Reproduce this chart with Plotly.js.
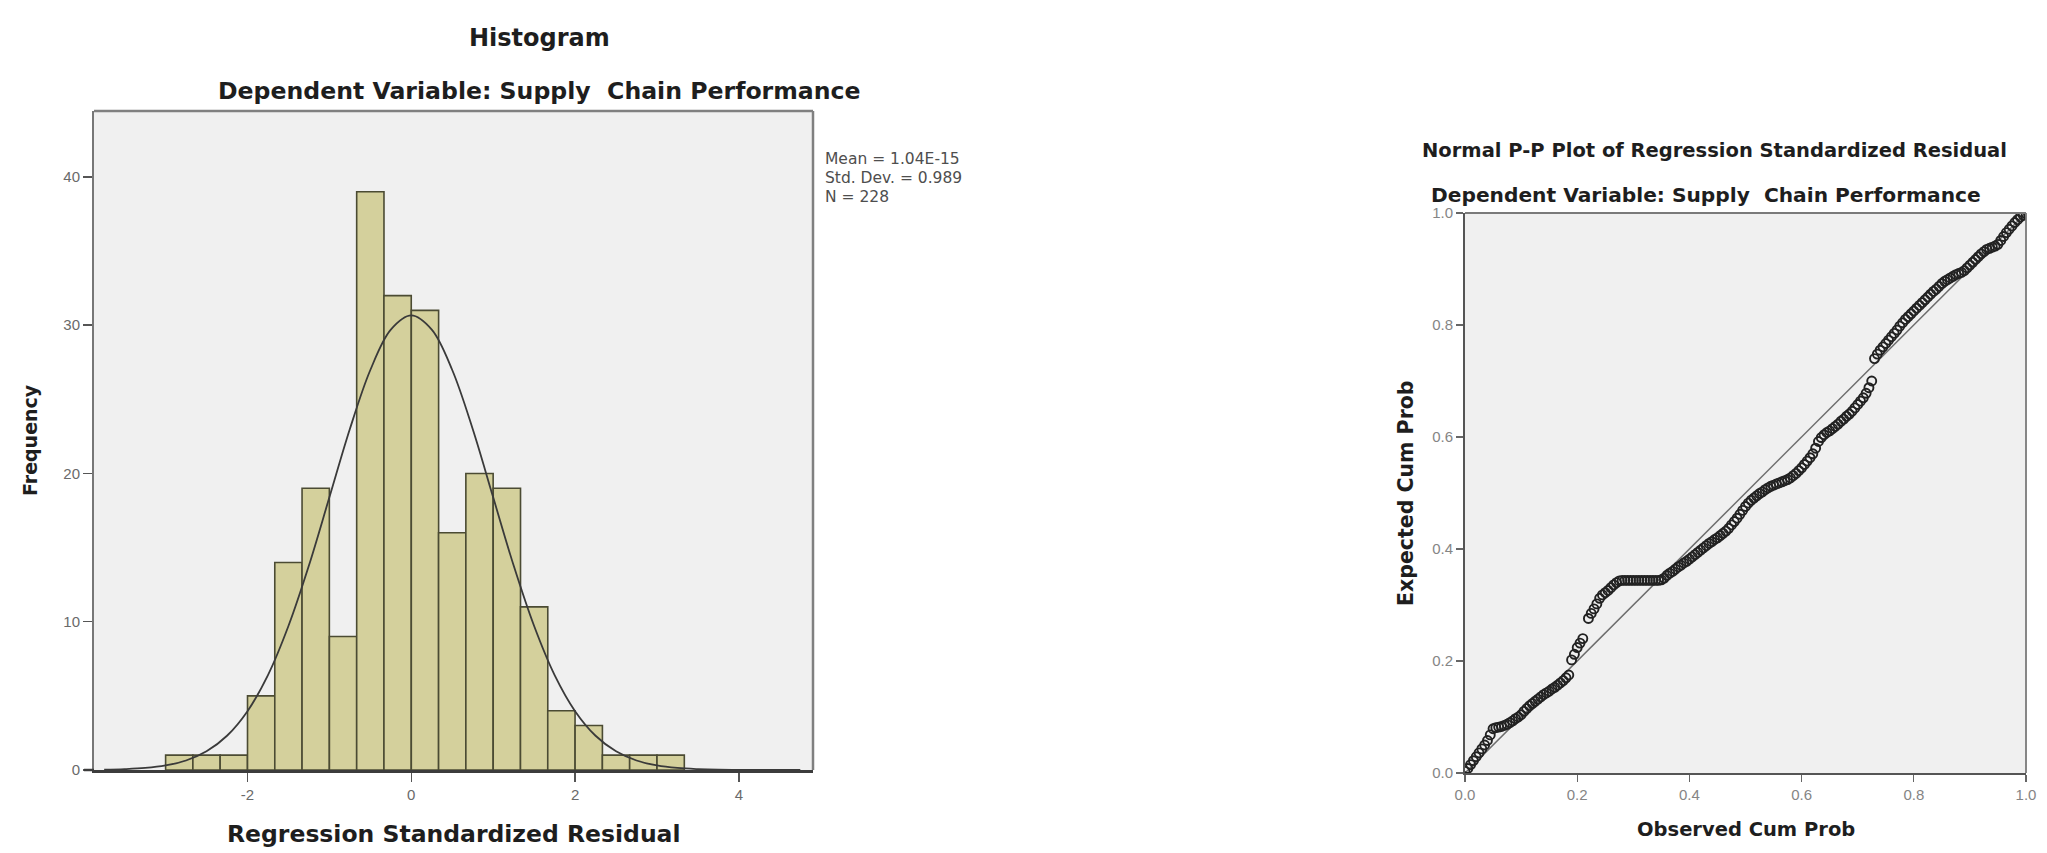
<!DOCTYPE html>
<html>
<head>
<meta charset="utf-8">
<script src="https://cdn.plot.ly/plotly-3.0.1.min.js"></script>
<style>
html,body{margin:0;padding:0;background:#fff;}
#chart{width:2047px;height:853px;}
</style>
</head>
<body>
<div id="chart"></div>
<script>
// ---------- Histogram data ----------
var binCenters = [-2.833,-2.5,-2.167,-1.833,-1.5,-1.167,-0.833,-0.5,-0.167,0.167,0.5,0.833,1.167,1.5,1.833,2.167,2.5,2.833,3.167];
var binWidth = 1/3;
var frequencies = [1,1,1,5,14,19,9,39,32,31,16,20,19,11,4,3,1,1,1];

// normal curve
var curveX = [-3.75,-3.5,-3.25,-3.0,-2.75,-2.5,-2.25,-2.0,-1.75,-1.5,-1.25,-1.0,-0.75,-0.5,-0.25,0,0.25,0.5,0.75,1.0,1.25,1.5,1.75,2.0,2.25,2.5,2.75,3.0,3.25,3.5,3.75,4.0,4.25,4.5,4.75];
var curveY = [0.02,0.06,0.14,0.31,0.64,1.26,2.31,3.97,6.40,9.71,13.79,18.39,23.00,26.98,29.70,30.66,29.70,26.98,23.00,18.39,13.79,9.71,6.40,3.97,2.31,1.26,0.64,0.31,0.14,0.06,0.02,0.01,0,0,0];

var histTicks = [-2,0,2,4];
var freqTicks = [0,10,20,30,40];
var statLines = ["Mean = 1.04E-15","Std. Dev. = 0.989","N = 228"];

// ---------- P-P plot data ----------
var observedCumProb = [
  0.000,0.005,0.010,0.015,0.020,0.025,0.030,0.035,0.040,0.045,
  0.050,0.055,0.060,0.065,0.070,0.075,0.080,0.085,0.090,0.095,
  0.100,0.105,0.110,0.115,0.120,0.125,0.130,0.135,0.140,0.145,
  0.150,0.155,0.160,0.165,0.170,0.175,0.180,0.185,0.190,0.195,
  0.200,0.205,0.210,0.220,0.225,0.230,0.235,0.240,0.245,
  0.250,0.255,0.260,0.265,0.270,0.275,0.280,0.285,0.290,0.295,
  0.300,0.305,0.310,0.315,0.320,0.325,0.330,0.335,0.340,0.345,
  0.350,0.355,0.360,0.365,0.370,0.375,0.380,0.385,0.390,0.395,
  0.400,0.405,0.410,0.415,0.420,0.425,0.430,0.435,0.440,0.445,
  0.450,0.455,0.460,0.465,0.470,0.475,0.480,0.485,0.490,0.495,
  0.500,0.505,0.510,0.515,0.520,0.525,0.530,0.535,0.540,0.545,
  0.550,0.555,0.560,0.565,0.570,0.575,0.580,0.585,0.590,0.595,
  0.600,0.605,0.610,0.615,0.620,0.625,0.630,0.635,0.640,0.645,
  0.650,0.655,0.660,0.665,0.670,0.675,0.680,0.685,0.690,0.695,
  0.700,0.705,0.710,0.715,0.720,0.725,0.730,0.735,0.740,0.745,
  0.750,0.755,0.760,0.765,0.770,0.775,0.780,0.785,0.790,0.795,
  0.800,0.805,0.810,0.815,0.820,0.825,0.830,0.835,0.840,0.845,
  0.850,0.855,0.860,0.865,0.870,0.875,0.880,0.885,0.890,0.895,
  0.900,0.905,0.910,0.915,0.920,0.925,0.930,0.935,0.940,0.945,
  0.950,0.955,0.960,0.965,0.970,0.975,0.980,0.985,0.990,0.995,1.000];
var expectedCumProb = [
  0.003,0.008,0.015,0.022,0.029,0.036,0.043,0.050,0.058,0.068,
  0.079,0.081,0.082,0.083,0.085,0.087,0.090,0.093,0.097,0.100,
  0.104,0.110,0.115,0.120,0.124,0.128,0.132,0.136,0.140,0.143,
  0.146,0.150,0.153,0.157,0.161,0.165,0.170,0.175,0.202,0.212,
  0.224,0.232,0.240,0.276,0.285,0.293,0.302,0.312,0.318,
  0.322,0.326,0.331,0.336,0.340,0.343,0.344,0.344,0.344,0.344,
  0.344,0.344,0.344,0.344,0.344,0.344,0.344,0.344,0.344,0.344,
  0.345,0.348,0.353,0.357,0.360,0.364,0.368,0.371,0.375,0.378,
  0.382,0.386,0.390,0.394,0.398,0.402,0.406,0.410,0.413,0.417,
  0.420,0.424,0.428,0.432,0.437,0.443,0.449,0.455,0.462,0.469,
  0.476,0.482,0.487,0.491,0.495,0.499,0.502,0.506,0.509,0.512,
  0.514,0.516,0.518,0.520,0.522,0.524,0.527,0.531,0.535,0.540,
  0.545,0.551,0.557,0.563,0.570,0.580,0.592,0.599,0.604,0.608,
  0.611,0.615,0.619,0.623,0.628,0.632,0.637,0.641,0.646,0.652,
  0.658,0.664,0.670,0.678,0.688,0.700,0.740,0.748,0.755,0.761,
  0.767,0.773,0.779,0.785,0.791,0.798,0.804,0.810,0.815,0.820,
  0.825,0.830,0.835,0.840,0.845,0.850,0.855,0.860,0.864,0.869,
  0.874,0.878,0.881,0.884,0.887,0.890,0.892,0.894,0.897,0.902,
  0.907,0.912,0.917,0.922,0.927,0.931,0.935,0.937,0.939,0.941,
  0.944,0.951,0.958,0.965,0.971,0.977,0.983,0.988,0.993,0.996,0.999];
var diagonal = [0,1];
var ppTicks = [0,0.2,0.4,0.6,0.8,1.0];
var ppTickText = ["0.0","0.2","0.4","0.6","0.8","1.0"];

var W = 2047, H = 853;
function px(x){return x/W;}
function py(y){return 1 - y/H;}

var BOLD = "DejaVu Sans, Verdana, sans-serif";
var tickFont = {family:"Liberation Sans, Arial, sans-serif", size:15, color:"#6a6a6a"};
var ppTickFont = {family:"Liberation Sans, Arial, sans-serif", size:15, color:"#858585"};

var traces = [
  {type:"bar", x:binCenters, y:frequencies, width:binWidth, xaxis:"x", yaxis:"y",
   marker:{color:"#d4d09c", line:{color:"#4b4b33", width:1.6}}},
  {type:"scatter", mode:"lines", x:curveX, y:curveY, xaxis:"x", yaxis:"y",
   line:{color:"#3a3a3a", width:1.8, shape:"spline"}},
  {type:"scatter", mode:"lines", x:diagonal, y:diagonal, xaxis:"x2", yaxis:"y2",
   line:{color:"#6e6e6e", width:1.5}},
  {type:"scatter", mode:"markers", x:observedCumProb, y:expectedCumProb, xaxis:"x2", yaxis:"y2",
   marker:{symbol:"circle-open", size:9, color:"#222", line:{width:1.9, color:"#222"}}}
];

var ann = [];
function addText(t, x, y, size, opts){
  opts = opts || {};
  var a = {text:t, x:px(x), y:py(y), xref:"paper", yref:"paper", showarrow:false,
    font:{family:opts.family||BOLD, size:size, color:opts.color||"#1e1e1e"},
    xanchor:opts.xanchor||"center", yanchor:"middle"};
  if(opts.angle) a.textangle = opts.angle;
  ann.push(a);
}
addText("<b>Histogram</b>", 539, 38, 24);
addText("<b>Dependent Variable: Supply  Chain Performance</b>", 539, 91, 23.6);
addText("<b>Frequency</b>", 30, 440, 19, {angle:-90});
addText("<b>Regression Standardized Residual</b>", 454, 834, 23.5);
for (var i=0;i<statLines.length;i++){
  addText(statLines[i], 823, 159 + i*19, 15.5, {xanchor:"left", color:"#4e4e4e", family:"DejaVu Sans, sans-serif"});
}
addText("<b>Normal P-P Plot of Regression Standardized Residual</b>", 1714, 150, 19.5);
addText("<b>Dependent Variable: Supply  Chain Performance</b>", 1706, 195, 20.2);
addText("<b>Expected Cum Prob</b>", 1406, 493, 20.5, {angle:-90});
addText("<b>Observed Cum Prob</b>", 1746, 829, 19.5);

var layout = {
  width:W, height:H, margin:{l:0,r:0,t:0,b:0}, showlegend:false,
  paper_bgcolor:"#ffffff", plot_bgcolor:"#f0f0f0",
  bargap:0,
  xaxis:{domain:[px(94),px(813)], range:[-3.874,4.905], tickvals:histTicks, ticktext:histTicks.map(String),
    ticks:"outside", ticklen:9, tickwidth:1.5, tickcolor:"#555", showgrid:false, zeroline:false,
    showline:true, linecolor:"#3c3c3c", linewidth:2.5, mirror:false, tickfont:tickFont, anchor:"y"},
  yaxis:{domain:[py(770),py(111)], range:[0,44.45], tickvals:freqTicks, ticktext:freqTicks.map(String),
    ticks:"outside", ticklen:9, tickwidth:1.5, tickcolor:"#555", showgrid:false, zeroline:false,
    showline:true, linecolor:"#777", linewidth:2, mirror:false, tickfont:tickFont, anchor:"x"},
  xaxis2:{domain:[px(1465),px(2026)], range:[0,1], tickvals:ppTicks, ticktext:ppTickText,
    ticks:"outside", ticklen:7, tickwidth:1.3, tickcolor:"#666", showgrid:false, zeroline:false,
    showline:true, linecolor:"#555", linewidth:2, mirror:false, tickfont:ppTickFont, anchor:"y2"},
  yaxis2:{domain:[py(773),py(213)], range:[0,1], tickvals:ppTicks, ticktext:ppTickText,
    ticks:"outside", ticklen:7, tickwidth:1.3, tickcolor:"#666", showgrid:false, zeroline:false,
    showline:true, linecolor:"#555", linewidth:2, mirror:false, tickfont:ppTickFont, anchor:"x2"},
  shapes:[
    {type:"line", xref:"paper", yref:"paper", x0:px(813), x1:px(813), y0:py(770), y1:py(111), line:{color:"#808080", width:2.5}},
    {type:"line", xref:"paper", yref:"paper", x0:px(94), x1:px(813), y0:py(111), y1:py(111), line:{color:"#808080", width:2.5}},
    {type:"line", xref:"paper", yref:"paper", x0:px(84), x1:px(94), y0:py(770), y1:py(770), line:{color:"#3c3c3c", width:2.5}},
    {type:"line", xref:"paper", yref:"paper", x0:px(2026), x1:px(2026), y0:py(773), y1:py(213), line:{color:"#7a7a7a", width:1.8}},
    {type:"line", xref:"paper", yref:"paper", x0:px(1465), x1:px(2026), y0:py(213), y1:py(213), line:{color:"#7a7a7a", width:1.8}}
  ],
  annotations:ann
};

Plotly.newPlot("chart", traces, layout, {staticPlot:true, displayModeBar:false});
</script>
</body>
</html>
